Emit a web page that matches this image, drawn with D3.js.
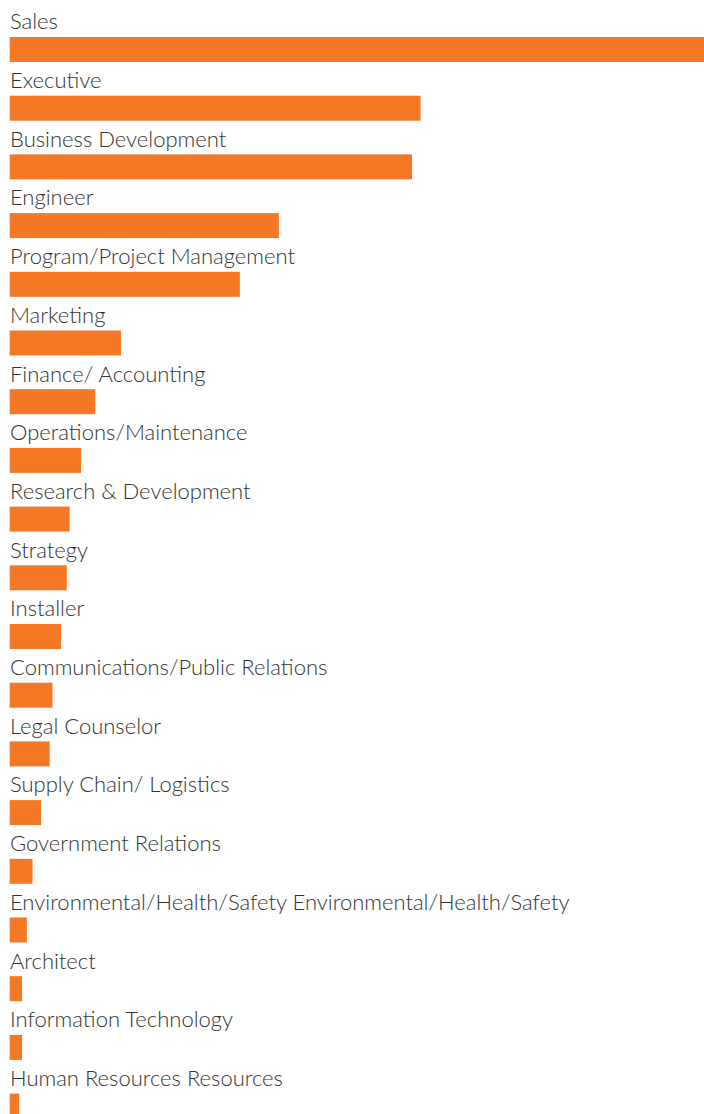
<!DOCTYPE html>
<html>
<head>
<meta charset="utf-8">
<script src="https://cdn.jsdelivr.net/npm/d3@7"></script>
<style>
  html, body { margin: 0; padding: 0; background: #fff; }
  svg { display: block; }
  .label { font-family: Lato, "Noto Sans", sans-serif; font-size: 22px; font-weight: 300; fill: #333; }
</style>
</head>
<body>
<svg id="chart" width="704" height="1114"></svg>
<script>
const categories = [
  "Sales", "Executive", "Business Development", "Engineer",
  "Program/Project Management", "Marketing", "Finance/ Accounting",
  "Operations/Maintenance", "Research & Development", "Strategy",
  "Installer", "Communications/Public Relations", "Legal Counselor",
  "Supply Chain/ Logistics", "Government Relations",
  "Environmental/Health/Safety Environmental/Health/Safety",
  "Architect", "Information Technology", "Human Resources Resources"
];
const values = [73, 43.2, 42.3, 28.3, 24.2, 11.7, 9.0, 7.5, 6.3, 6.0, 5.4, 4.5, 4.2, 3.3, 2.4, 1.8, 1.3, 1.3, 1.0];

const data = categories.map((c, i) => ({ category: c, value: values[i] }));

const W = 704, H = 1114;
const svg = d3.select("#chart");

const step = 58.7;
const y = d3.scaleBand()
  .domain(categories)
  .range([37, 37 + categories.length * step])
  .paddingInner(0)
  .paddingOuter(0);
const barH = 25;

const x = d3.scaleLinear()
  .domain([0, d3.max(values)])
  .range([9.7, W]);

const g = svg.append("g");

g.selectAll("rect.bar")
  .data(data)
  .join("rect")
  .attr("class", "bar")
  .attr("x", x(0))
  .attr("y", d => y(d.category))
  .attr("width", d => x(d.value) - x(0))
  .attr("height", barH)
  .attr("fill", "#f47825");

g.selectAll("text.label")
  .data(data)
  .join("text")
  .attr("class", "label")
  .attr("x", 10)
  .attr("y", d => y(d.category) - 7.7)
  .text(d => d.category);
</script>
</body>
</html>
